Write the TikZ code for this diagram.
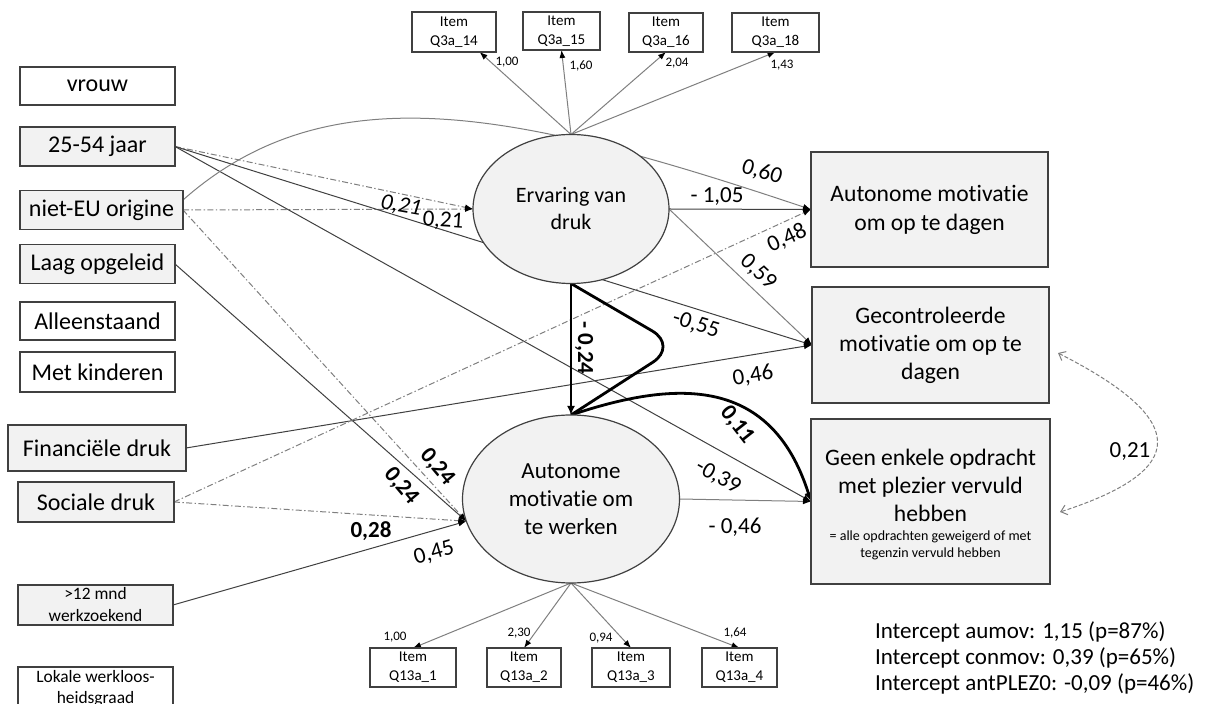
\documentclass[tikz,border=0pt]{standalone}
\usepackage{fontspec}
\setmainfont{Carlito}[Ligatures=NoCommon]
\usetikzlibrary{arrows.meta,shapes.geometric}
\pgfdeclarelayer{background}
\pgfsetlayers{background,main}
\definecolor{boxfill}{HTML}{F2F2F2}
\definecolor{edgecol}{HTML}{404040}
\definecolor{conncol}{HTML}{7F7F7F}
\begin{document}
\begin{tikzpicture}[x=0.5pt,y=-0.5pt,
  every node/.style={inner sep=0pt, outer sep=0pt},
  box/.style={draw=edgecol, line width=0.6pt, fill=boxfill, align=center,
    font=\fontsize{12}{14}\selectfont},
  wbox/.style={box, fill=white},
  latent/.style={ellipse, draw=edgecol, line width=0.6pt, fill=boxfill, align=center,
    font=\fontsize{11}{13.5}\selectfont},
  itembox/.style={draw=edgecol, line width=0.6pt, fill=white, align=center,
    font=\fontsize{7.5}{9.5}\selectfont},
  tip/.style={-{Latex[length=4pt,width=3pt,color=black]}},
  thinarr/.style={tip, draw=conncol, line width=0.5pt},
  darkarr/.style={tip, draw=edgecol, line width=0.5pt},
  dasharr/.style={tip, draw=conncol, line width=0.5pt,
    dash pattern=on 3pt off 1.2pt on 0.7pt off 1.2pt},
  boldarr/.style={-{Latex[length=4.5pt,width=4pt]}, draw=black, line width=1.4pt},
  lab/.style={font=\fontsize{11.5}{13}\selectfont},
  blab/.style={font=\fontsize{11.5}{13}\selectfont\bfseries},
  load/.style={font=\fontsize{6.5}{8}\selectfont}
]
\clip (0,0) rectangle (1214,704);
\useasboundingbox (0,0) rectangle (1214,704);

% ---- exogenous variables (left column)
\node[wbox, minimum width=77.5pt, minimum height=19pt] (vrouw) at (97.5,86) {vrouw};
\node[box, minimum width=77.5pt, minimum height=19.5pt] (age) at (97.5,146.5) {25-54 jaar};
\node[box, minimum width=81.5pt, minimum height=19.5pt] (neu) at (101.5,210) {niet-EU origine};
\node[box, minimum width=77.5pt, minimum height=19.5pt] (laag) at (97.5,264) {Laag opgeleid};
\node[wbox, minimum width=77.5pt, minimum height=19pt] (alleen) at (97.5,321) {Alleenstaand};
\node[wbox, minimum width=77.5pt, minimum height=20pt] (kind) at (97.5,372) {Met kinderen};
\node[box, minimum width=89pt, minimum height=23pt] (fin) at (97,448) {Financiële druk};
\node[box, minimum width=78pt, minimum height=20pt] (soc) at (96,502) {Sociale druk};
\node[box, minimum width=77.5pt, minimum height=20pt, font=\fontsize{8.7}{11}\selectfont] (lang) at (95.5,605) {>12 mnd\\werkzoekend};
\node[wbox, minimum width=77.5pt, minimum height=21pt, font=\fontsize{8.7}{10.5}\selectfont] (lok) at (95.5,688) {Lokale werkloos-\\heidsgraad};

% ---- latent variables
\node[latent, minimum width=98pt, minimum height=74.5pt] (erv) at (571,209) {Ervaring van\\druk};
\node[latent, minimum width=108.5pt, minimum height=84pt, font=\fontsize{11.5}{14}\selectfont] (aw) at (571,499) {Autonome\\motivatie om\\te werken};

% ---- outcomes (right column)
\node[box, minimum width=118.5pt, minimum height=57.5pt, font=\fontsize{11.8}{14.5}\selectfont] (aop) at (929.5,209.5) {Autonome motivatie\\om op te dagen};
\node[box, minimum width=118.5pt, minimum height=58pt, font=\fontsize{11.8}{14}\selectfont] (gec) at (930.5,345) {Gecontroleerde\\motivatie om op te\\dagen};
\node[box, minimum width=119.5pt, minimum height=82.5pt] (gen) at (930.5,501.5) {};
\node[font=\fontsize{11.8}{14}\selectfont, align=center] (genT) at (930.5,485) {Geen enkele opdracht\\met plezier vervuld\\hebben};
\node[font=\fontsize{7}{8.5}\selectfont, align=center] (genS) at (930.5,545) {= alle opdrachten geweigerd of met\\tegenzin vervuld hebben};

% ---- indicator items
\node[itembox, minimum width=42pt, minimum height=20pt] (q14) at (454,32) {Item\\Q3a\_14};
\node[itembox, minimum width=38.5pt, minimum height=19pt] (q15) at (561.5,31) {Item\\Q3a\_15};
\node[itembox, minimum width=37pt, minimum height=19.5pt] (q16) at (666,32.5) {Item\\Q3a\_16};
\node[itembox, minimum width=43.5pt, minimum height=19.5pt] (q18) at (775.5,32.5) {Item\\Q3a\_18};
\node[itembox, minimum width=43pt, minimum height=19.5pt] (i1) at (413,667.5) {Item\\Q13a\_1};
\node[itembox, minimum width=37pt, minimum height=19.5pt] (i2) at (524,667.5) {Item\\Q13a\_2};
\node[itembox, minimum width=39pt, minimum height=19.5pt] (i3) at (631,667.5) {Item\\Q13a\_3};
\node[itembox, minimum width=37.5pt, minimum height=19.5pt] (i4) at (739.5,667.5) {Item\\Q13a\_4};

\coordinate (covA) at (1058,353);
\coordinate (covB) at (1060,512);

\begin{pgfonlayer}{background}
% measurement model
\draw[thinarr] (erv.north) -- (q14.-38);
\draw[thinarr] (erv.north) -- (q15.south);
\draw[thinarr] (erv.north) -- (q16.south);
\draw[thinarr] (erv.north) -- (q18.south);
\draw[thinarr] (aw.south) -- (i1.north);
\draw[thinarr] (aw.south) -- (i2.north);
\draw[thinarr] (aw.south) -- (i3.north);
\draw[thinarr] (aw.south) -- (i4.north);
% structural paths from the exogenous variables
\draw[dasharr] (age.east) -- (erv.west);
\draw[dasharr] (neu.east) -- (erv.west);
\draw[darkarr] (age.east) -- (gec.west);
\draw[darkarr] (age.east) -- (gen.west);
\draw[thinarr] (neu.7) .. controls (330,70) and (520,112) .. (aop.west);
\draw[dasharr] (neu.east) -- (aw.192);
\draw[darkarr] (laag.east) -- (aw.192);
\draw[darkarr] (fin.east) -- (gec.west);
\draw[dasharr] (soc.east) -- (aw.192);
\draw[dasharr] (soc.east) -- (aop.west);
\draw[darkarr] (lang.east) -- (aw.192);
% paths between the latent variables and the outcomes
\draw[darkarr] (erv.east) -- (aop.west);
\draw[thinarr] (erv.east) -- (gec.west);
\draw[thinarr] (aw.east) -- (gen.west);
\draw[boldarr] (erv.south) -- (aw.north);
\draw[draw=black, line width=1.4pt, rounded corners=15pt] (erv.south) -- (678,346) -- (aw.north);
\draw[boldarr] (aw.north) .. controls (670,382) and (770,372) .. (gen.west);
% residual covariance
\draw[draw=conncol, line width=0.5pt, dash pattern=on 2pt off 1pt,
  {Straight Barb[length=3pt,width=5pt]}-{Straight Barb[length=3pt,width=5pt]}]
  (covA) .. controls (1190,420) and (1190,470) .. (covB);
\end{pgfonlayer}

% ---- path coefficients
\node[lab, rotate=-17] (c60) at (762,172) {0,60};
\node[lab] (c105) at (717,197) {- 1,05};
\node[lab, rotate=25] (c48) at (787,238) {0,48};
\node[lab, rotate=-43] (c59) at (758,272) {0,59};
\node[lab, rotate=-17] (c55) at (696,325) {-0,55};
\node[lab, rotate=9] (c46a) at (753,376) {0,46};
\node[lab, rotate=-10, font=\fontsize{11.5}{13}\selectfont\itshape] (c21a) at (401,206) {0,21};
\node[lab, rotate=-4] (c21b) at (443,221) {0,21};
\node[blab, rotate=-90] (c24v) at (584,348) {- 0,24};
\node[blab, rotate=-52] (c11) at (737,425) {0,11};
\node[lab, rotate=-29] (c39) at (718,477) {-0,39};
\node[lab] (c46b) at (735,527) {- 0,46};
\node[blab, rotate=-50] (c24a) at (437,467) {0,24};
\node[blab, rotate=-50] (c24b) at (401,486) {0,24};
\node[blab] (c28) at (371,531) {0,28};
\node[lab, rotate=16] (c45) at (434,553) {0,45};
\node[lab] (c21c) at (1130,452) {0,21};

% ---- factor loadings
\node[load] (l14) at (507,62) {1,00};
\node[load] (l15) at (581,66) {1,60};
\node[load] (l16) at (677,63) {2,04};
\node[load] (l18) at (782,65) {1,43};
\node[load] (l1) at (395,637) {1,00};
\node[load] (l2) at (519,633) {2,30};
\node[load] (l3) at (601,638) {0,94};
\node[load] (l4) at (735,633) {1,64};

% ---- intercepts
\node[anchor=west, align=left, font=\fontsize{11.5}{12.8}\selectfont] (icpt) at (875,658)
  {Intercept aumov: 1,15 (p=87\%)\\Intercept conmov: 0,39 (p=65\%)\\Intercept antPLEZ0: -0,09 (p=46\%)};
\end{tikzpicture}
\end{document}
